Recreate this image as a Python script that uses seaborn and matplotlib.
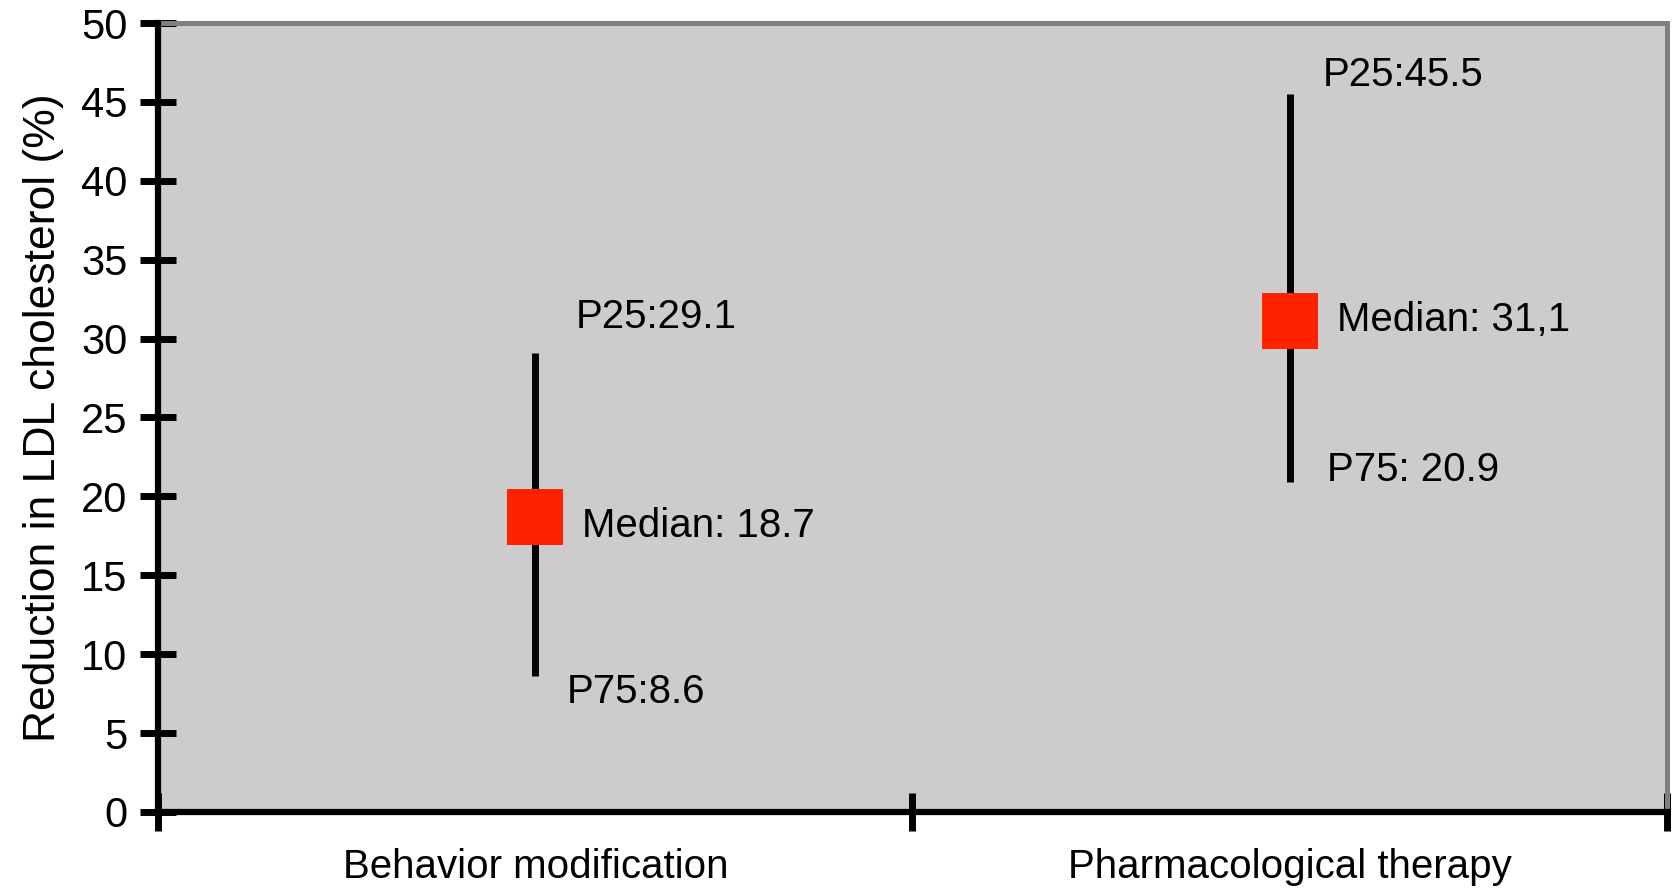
import matplotlib.pyplot as plt
import numpy as np
import pandas as pd
import seaborn as sns

# Data: LDL cholesterol reduction (%) by treatment
treatments = ["Behavior modification", "Pharmacological therapy"]
p25_values = [29.1, 45.5]
median_values = [18.7, 31.1]
p75_values = [8.6, 20.9]
p25_labels = ["P25:29.1", "P25:45.5"]
median_labels = ["Median: 18.7", "Median: 31,1"]
p75_labels = ["P75:8.6", "P75: 20.9"]

df = pd.DataFrame(
    {
        "treatment": treatments,
        "median": median_values,
        "p25": p25_values,
        "p75": p75_values,
    }
)

sns.set_theme(style="white")
plt.rcParams["font.family"] = ["Liberation Sans", "DejaVu Sans"]
plt.rcParams["text.color"] = "black"
plt.rcParams["xtick.color"] = "black"
plt.rcParams["ytick.color"] = "black"
plt.rcParams["axes.labelcolor"] = "black"

fig = plt.figure(figsize=(16.74, 8.96), dpi=100)
ax = fig.add_axes([0.0944, 0.0938, 0.9014, 0.8805])
ax.set_facecolor("#cccccc")

# Range lines between the two percentiles
xpos = np.arange(len(df))
ax.vlines(xpos, df["p75"], df["p25"], color="black", linewidth=5, zorder=2)

# Median markers
sns.scatterplot(
    data=df,
    x="treatment",
    y="median",
    marker="s",
    s=40**2,
    color="#ff2200",
    edgecolor="#ff2200",
    linewidth=0,
    zorder=3,
    ax=ax,
)

# Text annotations beside each range
fs = 29
offsets = {
    "p25": [(0.054, 2.3), (0.044, 1.2)],
    "median": [(0.062, -0.6), (0.062, 0.1)],
    "p75": [(0.042, -1.0), (0.049, 0.8)],
}
for i in xpos:
    dx, dy = offsets["p25"][i]
    ax.text(i + dx, df["p25"][i] + dy, p25_labels[i], fontsize=fs, va="center", ha="left")
    dx, dy = offsets["median"][i]
    ax.text(i + dx, df["median"][i] + dy, median_labels[i], fontsize=fs, va="center", ha="left")
    dx, dy = offsets["p75"][i]
    ax.text(i + dx, df["p75"][i] + dy, p75_labels[i], fontsize=fs, va="center", ha="left")

ax.set_xlim(-0.5, 1.5)
ax.set_ylim(0, 50)
ax.set_yticks(np.arange(0, 51, 5))
ax.set_xticks([-0.5, 0.5, 1.5])
ax.set_xticklabels([])
ax.set_xticks(xpos, minor=True)
ax.set_xticklabels(treatments, minor=True)

ax.tick_params(axis="y", which="major", left=True, direction="inout", length=26, width=5,
               color="black", labelsize=30, labelcolor="black", pad=9)
ax.tick_params(axis="x", which="major", bottom=True, direction="inout", length=27, width=5,
               color="black")
ax.tick_params(axis="x", which="minor", bottom=True, length=0, labelsize=fs,
               labelcolor="black", pad=26)

ax.set_xlabel("")
ax.set_ylabel("Reduction in LDL cholesterol (%)", fontsize=32, labelpad=12, color="black")

for side in ["left", "bottom"]:
    ax.spines[side].set_color("black")
    ax.spines[side].set_linewidth(4.5)
for side in ["top", "right"]:
    ax.spines[side].set_color("#808080")
    ax.spines[side].set_linewidth(3.6)
ax.spines["left"].set_zorder(5)
ax.spines["bottom"].set_zorder(5)

plt.savefig("out.png", dpi=100)
